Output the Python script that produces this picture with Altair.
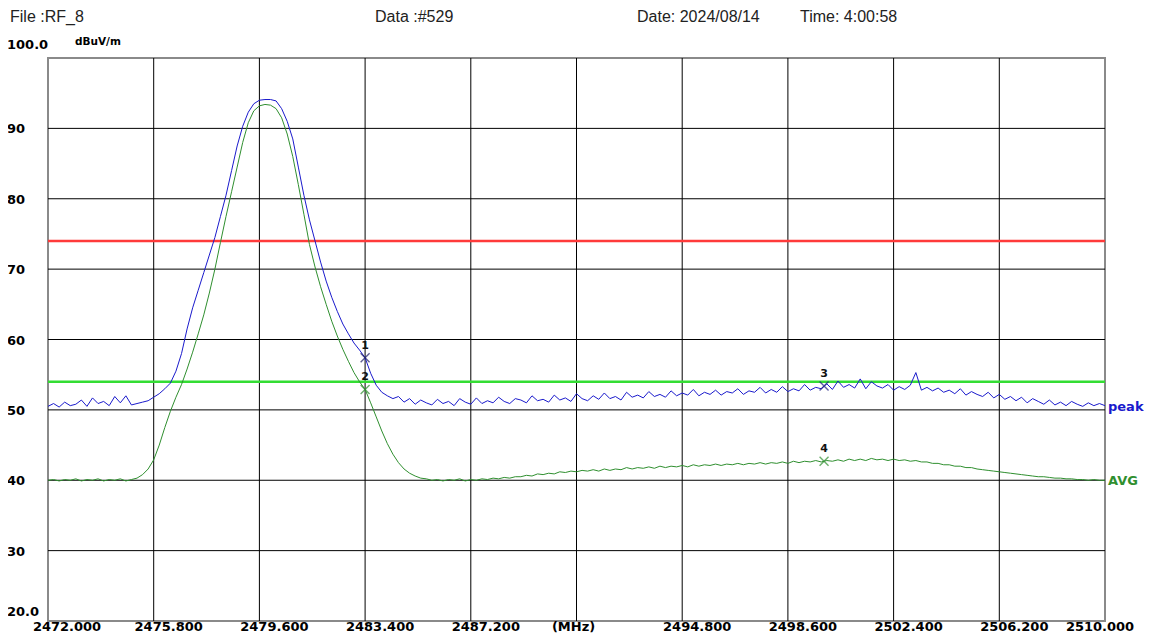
import altair as alt
import pandas as pd

# ---------------- data ----------------
SWEEP_START = 2472.0   # MHz
SWEEP_STEP = 0.2       # MHz between trace points

peak_level = [
    50.5, 50.9, 50.4, 51.1, 50.6, 50.8, 51.4, 50.5, 51.7, 50.9,
    51.2, 50.6, 51.9, 51.0, 52.0, 50.7, 50.9, 51.1, 51.3, 51.8,
    52.3, 53.0, 53.8, 55.5, 58.0, 61.5, 64.5, 67.0, 69.5, 72.0,
    74.5, 77.5, 80.5, 84.0, 87.5, 90.3, 92.3, 93.5, 94.0, 94.1,
    94.1, 93.9, 92.8, 91.0, 88.5, 84.5, 80.5, 77.0, 74.0, 71.0,
    68.3, 66.0, 64.0, 62.2, 60.8, 59.5, 58.5, 57.4, 55.2, 53.5,
    52.5, 52.0, 51.6, 51.9, 51.1, 51.6, 50.8, 51.4, 51.0, 50.7,
    51.5, 50.9, 51.2, 50.6, 51.6, 51.1, 50.8, 51.7, 50.9, 51.3,
    51.0, 51.8, 51.2, 50.9, 51.6, 51.4, 51.0, 52.0, 51.3, 51.5,
    51.1, 52.1, 51.4, 51.7, 51.2, 52.3, 51.6, 51.3, 52.0, 51.5,
    52.4, 51.6, 51.9, 51.4, 52.5, 51.8, 52.1, 51.7, 52.6, 51.9,
    52.2, 51.8, 52.7, 52.0, 52.4, 52.1, 52.9, 52.0, 52.5, 52.2,
    52.8, 52.1, 52.6, 52.4, 53.0, 52.2, 52.7, 52.5, 53.2, 52.4,
    52.9, 52.5, 53.3, 52.6, 53.0, 52.7, 53.6, 52.8, 53.2, 53.0,
    53.7, 52.9, 54.1, 53.2, 53.6, 53.1, 54.4, 53.0, 54.0, 53.4,
    53.1, 53.6, 52.8, 53.3, 52.9, 53.5, 55.3, 52.8, 53.2, 52.7,
    53.1, 52.5, 52.8, 52.3, 53.0, 52.1, 52.6, 52.2, 51.9, 52.5,
    51.7, 52.2, 51.5, 51.9, 51.3, 51.8, 51.0, 51.6, 51.2, 50.8,
    51.4, 50.7, 51.1, 50.6, 51.2, 50.8, 50.5, 51.0, 50.6, 50.9,
    50.6,
]

avg_level = [
    40.0, 40.1, 39.9, 40.1, 40.0, 40.2, 39.9, 40.1, 40.0, 40.2,
    39.9, 40.1, 40.0, 40.2, 39.9, 40.1, 40.3, 40.8, 41.6, 42.9,
    45.0, 47.5, 49.8, 51.8, 53.6, 55.8, 58.2, 60.8, 63.5, 66.6,
    70.0, 73.8, 77.5, 81.0, 84.5, 88.0, 90.8, 92.5, 93.2, 93.4,
    93.3, 92.8, 91.5, 89.2, 86.0, 82.0, 77.8, 73.5, 70.3, 67.5,
    65.0, 62.6, 60.5, 58.6, 56.9, 55.3, 54.0, 52.9, 51.0, 49.0,
    47.0, 45.2, 43.7, 42.5, 41.6, 41.0, 40.6, 40.3, 40.2, 40.0,
    40.1, 39.9, 40.1, 40.0, 40.2, 39.9, 40.1, 40.0, 40.2, 40.1,
    40.3, 40.2, 40.4, 40.3, 40.5, 40.5, 40.7, 40.6, 40.9, 40.8,
    41.0, 40.9, 41.2, 41.1, 41.3, 41.2, 41.4, 41.3, 41.5, 41.3,
    41.6, 41.4, 41.6, 41.5, 41.8, 41.6, 41.8, 41.7, 41.9, 41.7,
    42.0, 41.8, 42.0, 41.9, 42.1, 41.9, 42.2, 42.0, 42.2, 42.1,
    42.3, 42.1, 42.3, 42.2, 42.4, 42.2, 42.4, 42.3, 42.5, 42.3,
    42.5, 42.4, 42.6, 42.4, 42.7, 42.5, 42.7, 42.6, 42.8, 42.6,
    42.8, 42.7, 42.9, 42.7, 43.0, 42.8, 43.0, 42.8, 43.1, 42.9,
    43.0, 42.8, 43.0, 42.8, 42.9, 42.7, 42.8, 42.6, 42.6, 42.4,
    42.4, 42.2, 42.2, 42.0, 42.0, 41.8, 41.8, 41.6, 41.5, 41.4,
    41.3, 41.2, 41.1, 41.0, 40.9, 40.8, 40.7, 40.6, 40.5, 40.5,
    40.4, 40.3, 40.3, 40.2, 40.2, 40.1, 40.1, 40.0, 40.1, 40.0,
    40.0,
]

x_ticks = [2472.0, 2475.8, 2479.6, 2483.4, 2487.2, 2491.0,
           2494.8, 2498.6, 2502.4, 2506.2, 2510.0]
x_tick_labels = ["2472.000", "2475.800", "2479.600", "2483.400", "2487.200", "(MHz)",
                 "2494.800", "2498.600", "2502.400", "2506.200", "2510.000"]
y_ticks = [20, 30, 40, 50, 60, 70, 80, 90, 100]
y_tick_labels = ["20.0", "30", "40", "50", "60", "70", "80", "90", "100.0"]

limit_levels = [74, 54]
limit_colors = ["#ff3a3a", "#33dd33"]

marker_freq = [2483.4, 2483.4, 2499.9, 2499.9]
marker_level = [57.4, 52.9, 53.4, 42.7]
marker_name = ["1", "2", "3", "4"]
marker_color = ["#1c1c66", "#2f8f2f", "#1c1c80", "#2f8f2f"]

header_texts = ["File :RF_8", "Data :#529", "Date: 2024/08/14", "Time: 4:00:58"]
header_x = [-38, 327, 589, 752]

unit_text = "dBuV/m"
trace_names = ["peak", "AVG"]

# ---------------- build ----------------
W, H = 1057, 563
BLUE = "#1a1acc"
GREEN = "#2f8f2f"
FONT = "DejaVu Sans"

xs = alt.Scale(domain=[x_ticks[0], x_ticks[-1]], nice=False, zero=False)
ys = alt.Scale(domain=[y_ticks[0], y_ticks[-1]], nice=False, zero=False)

peak_df = pd.DataFrame({
    "f": [SWEEP_START + SWEEP_STEP * i for i in range(len(peak_level))],
    "v": peak_level})
avg_df = pd.DataFrame({
    "f": [SWEEP_START + SWEEP_STEP * i for i in range(len(avg_level))],
    "v": avg_level})

X = alt.X("f:Q", scale=xs, axis=None)
Y = alt.Y("v:Q", scale=ys, axis=None)

vgrid = alt.Chart(pd.DataFrame({"f": x_ticks[1:-1]})).mark_rule(
    color="#000000", strokeWidth=1).encode(x=X)
hgrid = alt.Chart(pd.DataFrame({"v": y_ticks[1:-1]})).mark_rule(
    color="#000000", strokeWidth=1).encode(y=Y)

limits = alt.Chart(pd.DataFrame({"v": limit_levels, "c": limit_colors})).mark_rule(
    strokeWidth=2.5).encode(y=Y, color=alt.Color("c:N", scale=None))

peak_line = alt.Chart(peak_df).mark_line(color=BLUE, strokeWidth=1).encode(x=X, y=Y)
avg_line = alt.Chart(avg_df).mark_line(color=GREEN, strokeWidth=1).encode(x=X, y=Y)

mk_df = pd.DataFrame({"f": marker_freq, "v": marker_level,
                      "n": marker_name, "c": marker_color})
markers = alt.Chart(mk_df).mark_point(
    shape="M-1,-1L1,1M-1,1L1,-1", size=80, strokeWidth=1.4, filled=False
).encode(x=X, y=Y, color=alt.Color("c:N", scale=None))
marker_labels = alt.Chart(mk_df).mark_text(
    font=FONT, fontSize=11, fontWeight="bold", color="#111111", dy=-12
).encode(x=X, y=Y, text="n:N")

trace_lbl_df = pd.DataFrame({"f": [x_ticks[-1]] * 2,
                             "v": [peak_level[-1], avg_level[-1]],
                             "t": trace_names, "c": [BLUE, GREEN]})
trace_labels = alt.Chart(trace_lbl_df).mark_text(
    font=FONT, fontSize=13, fontWeight="bold", align="left", baseline="middle", dx=3, dy=1
).encode(x=X, y=Y, text="t:N", color=alt.Color("c:N", scale=None))

# x tick labels
xl_df = pd.DataFrame({"f": x_ticks, "t": x_tick_labels})
xl_first = xl_df.iloc[[0]]
xl_last = xl_df.iloc[[-1]]
xl_mid = xl_df.iloc[1:-1]
xl_unit = xl_mid[xl_mid["t"] == "(MHz)"]
xl_mid = xl_mid[xl_mid["t"] != "(MHz)"]


def xlab(df, dx):
    return alt.Chart(df).mark_text(
        font=FONT, fontSize=13, fontWeight="bold", baseline="middle", dx=dx, color="#000000"
    ).encode(x=X, y=alt.value(H + 6), text="t:N")


xlabels = [xlab(xl_first, 19), xlab(xl_mid, 15), xlab(xl_unit, -3), xlab(xl_last, -5)]

# y tick labels
yl_df = pd.DataFrame({"v": y_ticks, "t": y_tick_labels})


def ylab(df, dy):
    return alt.Chart(df).mark_text(
        font=FONT, fontSize=13, fontWeight="bold", align="left", baseline="middle",
        dy=dy, color="#000000"
    ).encode(x=alt.value(-41), y=Y, text="t:N")


ylabels = [ylab(yl_df.iloc[[0]], -9), ylab(yl_df.iloc[1:-1], 1), ylab(yl_df.iloc[[-1]], -13)]

unit_lbl = alt.Chart(pd.DataFrame({"t": [unit_text]})).mark_text(
    font=FONT, fontSize=10.5, fontWeight="bold", align="left", baseline="middle",
    color="#000000"
).encode(x=alt.value(27), y=alt.value(-16), text="t:N")

header = alt.Chart(pd.DataFrame({"t": header_texts, "px": header_x})).mark_text(
    font="Liberation Sans", fontSize=16, align="left", baseline="top", color="#222222"
).encode(x=alt.X("px:Q", scale=None, axis=None), y=alt.value(-49), text="t:N")

chart = alt.layer(
    vgrid, hgrid, limits, peak_line, avg_line, markers, marker_labels,
    trace_labels, *xlabels, *ylabels, unit_lbl, header
).properties(
    width=W, height=H,
    autosize=alt.AutoSizeParams(type="none"),
    padding={"left": 40, "top": 50, "right": 39, "bottom": 13},
    background="#ffffff",
).configure_view(stroke="#8a8a8a", strokeWidth=2)

chart.save("out.html", embed_options={"renderer": "svg", "actions": False})
